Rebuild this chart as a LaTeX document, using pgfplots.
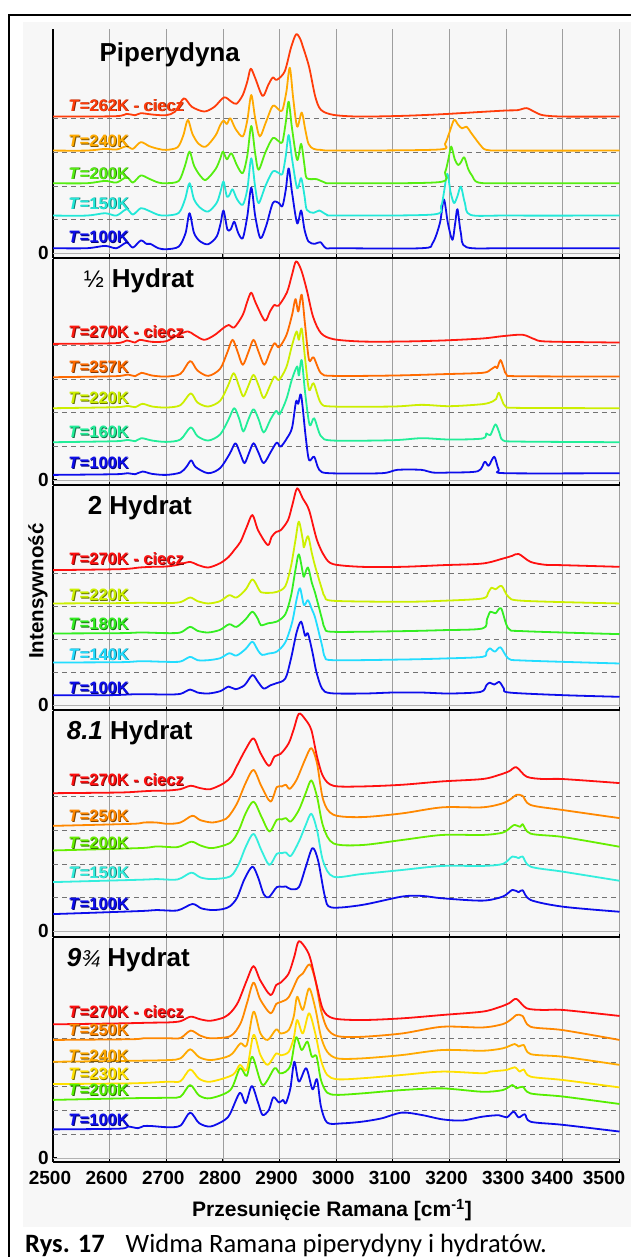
\documentclass[border=0pt]{standalone}
\usepackage{pgfplots}
\pgfplotsset{compat=1.18}
\usepackage{fontspec}
\setmainfont{Liberation Sans}
\newfontfamily\capfont{Carlito}

% temperature colours
\definecolor{k100}{HTML}{0D0DEB}
\definecolor{pa}{HTML}{22E8D8}
\definecolor{pb}{HTML}{55EE11}
\definecolor{pc}{HTML}{FFAA00}
\definecolor{pd}{HTML}{FF3C0A}
\definecolor{qa}{HTML}{22EE99}
\definecolor{qb}{HTML}{CCEE00}
\definecolor{qc}{HTML}{FF6A00}
\definecolor{qd}{HTML}{FF1A10}
\definecolor{ra}{HTML}{22DDFF}
\definecolor{rb}{HTML}{33EE22}
\definecolor{rc}{HTML}{CCF000}
\definecolor{rd}{HTML}{FF1010}
\definecolor{sa}{HTML}{33EEDD}
\definecolor{sb}{HTML}{66EE00}
\definecolor{sc}{HTML}{FF8800}
\definecolor{sd}{HTML}{FF1010}
\definecolor{tb}{HTML}{55EE00}
\definecolor{tc}{HTML}{FFE000}
\definecolor{td}{HTML}{FFAA00}
\definecolor{te}{HTML}{FF8800}
\definecolor{tf}{HTML}{FF1010}

\newcommand\lblfont{\fontsize{16.5}{16.5}\selectfont\bfseries}
\newcommand\ttlfont{\fontsize{26}{26}\selectfont\bfseries}
\newcommand\tickfont{\fontsize{19}{19}\selectfont\bfseries}

% temperature label with a dark drop shadow
\newcommand\lbl[3]{%
  \node[anchor=base west, inner sep=0pt, text=#1!50!black, xshift=0.8pt, yshift=-0.8pt] at (axis cs:2527,#2) {\lblfont #3};
  \node[anchor=base west, inner sep=0pt, text=#1] at (axis cs:2527,#2) {\lblfont #3};}

\pgfplotsset{
  panel/.style={
    scale only axis, width=566.5pt,
    xmin=2500, xmax=3500,
    separate axis lines,
    axis x line*=bottom, axis y line*=left,
    axis line style={-, line width=1.8pt, black},
    xtick={2500,2600,...,3500}, xticklabels={},
    ytick={0}, yticklabels={0},
    xtick pos=left, ytick pos=left,
    tick align=inside, major tick length=3.5pt,
    tick style={black, line width=1pt},
    xmajorgrids, major grid style={black!38, line width=0.9pt},
    yticklabel style={font=\tickfont, inner sep=1pt, xshift=-3pt},
    every axis plot/.append style={line width=1.8pt, smooth, line join=round},
  },
  ref/.style={black!55, line width=0.8pt, dash pattern=on 5pt off 4pt, sharp plot},
  zero/.style={black!30, line width=0.6pt, sharp plot},
}

\begin{document}
\begin{tikzpicture}[x=1pt,y=1pt]
\useasboundingbox (0,0) rectangle (631,-1257);
\fill[black!3] (23,-22) rectangle (631,-1227);
\draw[line width=2pt] (9,-1262) -- (9,-15.5) -- (640,-15.5);

% ---------------- Piperydyna ----------------
\begin{axis}[panel, at={(53pt,-29pt)}, anchor=north west, height=229pt, ymin=-0.14, ymax=6.66]
\addplot[zero] coordinates {(2500,0)(3500,0)};
\addplot[ref] coordinates {(2500,1)(3500,1)};
\addplot[ref] coordinates {(2500,2)(3500,2)};
\addplot[ref] coordinates {(2500,3)(3500,3)};
\addplot[ref] coordinates {(2500,4)(3500,4)};
% T = 100 K
\addplot[k100] coordinates {(2500,0.15)(2560,0.15)(2592,0.22)(2612,0.15)(2630,0.32)(2641,0.17)(2655,0.38)(2665,0.28)(2672,0.28)(2686,0.15)(2700,0.12)(2722,0.2)(2734,0.6)(2741,1.19)(2749,0.6)(2760,0.35)(2774,0.27)(2789,0.5)(2796,0.9)(2801,1.27)(2808,0.7)(2814,0.72)(2820,0.94)(2827,0.6)(2835,0.45)(2843,1.1)(2850,1.95)(2857,1.1)(2866,0.45)(2876,0.8)(2888,1.49)(2898,1.5)(2905,1.4)(2911,1.9)(2916,2.52)(2922,1.8)(2931,0.89)(2938,1.27)(2944,0.7)(2951,0.35)(2962,0.28)(2972,0.33)(2982,0.15)(3000,0.15)(3150,0.15)(3170,0.3)(3183,0.9)(3190,1.6)(3197,0.9)(3205,0.4)(3210,0.9)(3214,1.31)(3220,0.6)(3230,0.18)(3300,0.15)(3500,0.15)};
% T = 150 K
\addplot[pa] coordinates {(2500,1.12)(2560,1.12)(2592,1.19)(2612,1.12)(2630,1.31)(2641,1.15)(2655,1.34)(2668,1.27)(2686,1.14)(2700,1.12)(2722,1.2)(2733,1.6)(2741,2.08)(2749,1.6)(2760,1.35)(2774,1.24)(2789,1.5)(2796,1.85)(2801,2.13)(2807,1.68)(2812,1.75)(2817,1.9)(2825,1.6)(2835,1.44)(2843,1.9)(2850,2.82)(2857,1.95)(2863,1.49)(2875,2.0)(2888,2.43)(2899,2.38)(2905,2.35)(2911,2.9)(2916,3.51)(2922,2.8)(2931,1.93)(2938,2.23)(2944,1.7)(2948,1.29)(2960,1.2)(2970,1.27)(2984,1.14)(3000,1.12)(3170,1.15)(3185,1.4)(3190,1.8)(3196,2.36)(3202,1.8)(3208,1.49)(3214,1.7)(3220,1.98)(3227,1.5)(3237,1.14)(3300,1.12)(3500,1.12)};
% T = 200 K
\addplot[pb] coordinates {(2500,2.08)(2560,2.08)(2592,2.15)(2612,2.1)(2630,2.26)(2641,2.1)(2655,2.31)(2670,2.21)(2686,2.1)(2700,2.08)(2722,2.15)(2733,2.6)(2741,3.02)(2749,2.6)(2760,2.3)(2770,2.18)(2787,2.5)(2795,2.8)(2800,3.02)(2807,2.79)(2815,2.97)(2825,2.6)(2835,2.38)(2843,2.9)(2850,3.78)(2857,2.95)(2863,2.48)(2875,3.0)(2888,3.42)(2899,3.32)(2905,3.3)(2911,3.9)(2916,4.5)(2922,3.7)(2931,2.77)(2938,3.25)(2944,2.6)(2948,2.23)(2966,2.2)(2980,2.1)(3000,2.08)(3180,2.11)(3192,2.4)(3198,2.8)(3203,3.17)(3209,2.8)(3215,2.62)(3220,2.7)(3226,2.85)(3233,2.5)(3240,2.3)(3251,2.1)(3300,2.08)(3500,2.08)};
% T = 240 K
\addplot[pc] coordinates {(2500,3.05)(2560,3.05)(2592,3.1)(2612,3.08)(2630,3.18)(2641,3.1)(2655,3.3)(2670,3.18)(2686,3.1)(2700,3.07)(2720,3.15)(2730,3.5)(2738,3.96)(2746,3.55)(2757,3.25)(2770,3.17)(2787,3.5)(2795,3.8)(2801,3.94)(2807,3.84)(2813,4.01)(2822,3.7)(2835,3.47)(2843,3.95)(2850,4.7)(2857,4.0)(2865,3.47)(2876,3.9)(2888,4.38)(2899,4.26)(2905,4.25)(2912,4.8)(2918,5.51)(2924,4.6)(2931,3.76)(2939,4.18)(2945,3.7)(2951,3.25)(2960,3.1)(2973,3.07)(3000,3.05)(3180,3.08)(3192,3.25)(3200,3.6)(3208,3.96)(3215,3.82)(3222,3.71)(3230,3.76)(3237,3.6)(3244,3.44)(3255,3.2)(3265,3.07)(3300,3.05)(3500,3.05)};
% T = 262 K, liquid
\addplot[pd] coordinates {(2500,4.06)(2610,4.07)(2630,4.14)(2645,4.1)(2655,4.16)(2675,4.12)(2699,4.1)(2715,4.2)(2731,4.6)(2745,4.35)(2767,4.21)(2785,4.35)(2802,4.63)(2815,4.5)(2824,4.44)(2835,4.7)(2843,5.1)(2849,5.48)(2857,5.2)(2870,4.67)(2880,5.0)(2888,5.22)(2895,5.15)(2909,5.4)(2920,6.1)(2929,6.5)(2936,6.38)(2941,6.14)(2952,5.54)(2963,4.65)(2973,4.26)(2995,4.11)(3040,4.06)(3116,4.08)(3187,4.13)(3258,4.2)(3300,4.24)(3320,4.25)(3336,4.31)(3350,4.2)(3365,4.1)(3400,4.06)(3500,4.06)};
\node[anchor=base west, inner sep=0pt] at (axis cs:2582,5.70) {\ttlfont Piperydyna};
\lbl{pd}{4.22}{\textit{T}=262K - ciecz}
\lbl{pc}{3.16}{\textit{T}=240K}
\lbl{pb}{2.20}{\textit{T}=200K}
\lbl{pa}{1.31}{\textit{T}=150K}
\lbl{k100}{0.31}{\textit{T}=100K}
\end{axis}

% ---------------- 1/2 hydrat ----------------
\begin{axis}[panel, at={(53pt,-259pt)}, anchor=north west, height=226pt, ymin=-0.15, ymax=6.56]
\addplot[zero] coordinates {(2500,0)(3500,0)};
\addplot[ref] coordinates {(2500,1)(3500,1)};
\addplot[ref] coordinates {(2500,2)(3500,2)};
\addplot[ref] coordinates {(2500,3)(3500,3)};
\addplot[ref] coordinates {(2500,4)(3500,4)};
% T = 100 K
\addplot[k100] coordinates {(2500,0.15)(2610,0.17)(2632,0.2)(2645,0.17)(2658,0.25)(2675,0.18)(2700,0.15)(2725,0.22)(2736,0.4)(2744,0.58)(2752,0.38)(2774,0.2)(2795,0.35)(2812,0.78)(2822,1.09)(2830,0.8)(2838,0.5)(2846,0.8)(2854,1.09)(2863,0.8)(2872,0.5)(2885,0.85)(2895,1.11)(2902,0.99)(2913,1.24)(2922,1.55)(2929,2.33)(2933,2.26)(2938,2.52)(2946,1.29)(2952,0.59)(2961,0.69)(2970,0.3)(2988,0.2)(3080,0.2)(3108,0.3)(3150,0.3)(3170,0.22)(3200,0.22)(3250,0.26)(3262,0.54)(3269,0.42)(3279,0.69)(3287,0.3)(3300,0.2)(3500,0.2)};
% T = 160 K
\addplot[qa] coordinates {(2500,1.12)(2610,1.15)(2632,1.19)(2645,1.15)(2656,1.24)(2675,1.17)(2700,1.13)(2725,1.2)(2743,1.56)(2755,1.3)(2774,1.17)(2795,1.35)(2810,1.8)(2820,2.13)(2829,1.8)(2836,1.44)(2845,1.8)(2854,2.1)(2863,1.8)(2872,1.41)(2884,1.8)(2894,2.05)(2900,1.95)(2912,2.4)(2922,3.0)(2931,3.37)(2934,3.1)(2939,3.56)(2945,2.6)(2953,1.63)(2961,1.83)(2973,1.3)(2994,1.17)(3100,1.18)(3151,1.24)(3200,1.2)(3258,1.23)(3265,1.38)(3272,1.33)(3281,1.65)(3288,1.4)(3294,1.18)(3320,1.14)(3500,1.12)};
% T = 220 K
\addplot[qb] coordinates {(2500,2.13)(2610,2.16)(2632,2.2)(2645,2.16)(2658,2.26)(2675,2.18)(2700,2.15)(2725,2.22)(2743,2.57)(2755,2.3)(2774,2.18)(2795,2.35)(2809,2.8)(2819,3.17)(2828,2.8)(2836,2.48)(2845,2.8)(2854,3.12)(2863,2.8)(2872,2.43)(2883,2.8)(2891,3.07)(2899,2.97)(2912,3.35)(2922,4.0)(2930,4.41)(2934,4.16)(2939,4.5)(2945,3.6)(2952,2.67)(2960,2.87)(2973,2.28)(2994,2.18)(3100,2.18)(3151,2.23)(3200,2.19)(3258,2.25)(3276,2.33)(3282,2.4)(3287,2.59)(3293,2.35)(3299,2.18)(3320,2.14)(3500,2.13)};
% T = 257 K
\addplot[qc] coordinates {(2500,3.05)(2610,3.08)(2632,3.13)(2645,3.08)(2656,3.18)(2675,3.1)(2700,3.07)(2725,3.15)(2742,3.53)(2755,3.25)(2774,3.09)(2795,3.3)(2808,3.8)(2817,4.16)(2826,3.8)(2835,3.42)(2845,3.8)(2854,4.16)(2863,3.8)(2873,3.42)(2883,3.8)(2891,4.06)(2899,3.94)(2912,4.3)(2922,4.9)(2928,5.37)(2933,5.0)(2939,5.5)(2945,4.6)(2952,3.56)(2960,3.64)(2973,3.17)(2994,3.09)(3100,3.1)(3187,3.14)(3258,3.18)(3272,3.27)(3281,3.37)(3284,3.32)(3290,3.56)(3296,3.3)(3301,3.12)(3320,3.08)(3500,3.07)};
% T = 270 K, liquid
\addplot[qd] coordinates {(2500,4.04)(2610,4.06)(2630,4.14)(2645,4.08)(2653,4.16)(2675,4.1)(2700,4.12)(2720,4.3)(2738,4.41)(2750,4.3)(2767,4.16)(2785,4.3)(2800,4.5)(2810,4.6)(2820,4.53)(2835,4.9)(2843,5.3)(2850,5.56)(2858,5.25)(2874,4.73)(2883,5.0)(2891,5.2)(2898,5.17)(2913,5.57)(2922,6.1)(2929,6.49)(2938,6.24)(2948,5.64)(2959,4.85)(2973,4.36)(2995,4.18)(3045,4.11)(3116,4.11)(3187,4.14)(3258,4.2)(3294,4.27)(3329,4.31)(3350,4.18)(3372,4.11)(3500,4.08)};
\node[anchor=base west, inner sep=0pt] at (axis cs:2554,5.71) {{\fontsize{24}{24}\selectfont\mdseries ½}\hspace{8pt}\ttlfont Hydrat};
\lbl{qd}{4.22}{\textit{T}=270K - ciecz}
\lbl{qc}{3.19}{\textit{T}=257K}
\lbl{qb}{2.27}{\textit{T}=220K}
\lbl{qa}{1.25}{\textit{T}=160K}
\lbl{k100}{0.34}{\textit{T}=100K}
\end{axis}

% ---------------- 2 hydrat ----------------
\begin{axis}[panel, at={(53pt,-486pt)}, anchor=north west, height=224pt, ymin=-0.15, ymax=6.64]
\addplot[zero] coordinates {(2500,0)(3500,0)};
\addplot[ref] coordinates {(2500,1)(3500,1)};
\addplot[ref] coordinates {(2500,2)(3500,2)};
\addplot[ref] coordinates {(2500,3)(3500,3)};
\addplot[ref] coordinates {(2500,4)(3500,4)};
% T = 100 K
\addplot[k100] coordinates {(2500,0.3)(2600,0.3)(2650,0.33)(2700,0.32)(2725,0.34)(2742,0.47)(2755,0.38)(2774,0.35)(2795,0.42)(2810,0.56)(2822,0.48)(2838,0.6)(2852,0.91)(2862,0.7)(2872,0.5)(2884,0.6)(2894,0.66)(2910,0.8)(2920,1.4)(2930,2.2)(2938,2.53)(2945,2.1)(2950,2.17)(2958,1.6)(2965,1.0)(2975,0.5)(2990,0.36)(3050,0.35)(3100,0.38)(3150,0.38)(3200,0.35)(3255,0.4)(3265,0.6)(3271,0.68)(3279,0.62)(3288,0.7)(3296,0.5)(3305,0.38)(3400,0.3)(3500,0.25)};
% T = 140 K
\addplot[ra] coordinates {(2500,1.29)(2620,1.3)(2656,1.33)(2700,1.31)(2725,1.32)(2742,1.46)(2755,1.36)(2774,1.36)(2795,1.42)(2811,1.57)(2824,1.5)(2840,1.7)(2852,1.92)(2862,1.65)(2869,1.52)(2880,1.56)(2895,1.62)(2910,1.9)(2922,2.5)(2930,3.2)(2936,3.54)(2943,3.03)(2950,3.18)(2957,2.9)(2963,2.63)(2975,1.8)(2980,1.46)(2995,1.36)(3116,1.38)(3187,1.41)(3258,1.46)(3265,1.6)(3271,1.72)(3280,1.62)(3290,1.75)(3304,1.41)(3330,1.35)(3500,1.26)};
% T = 180 K
\addplot[rb] coordinates {(2500,2.17)(2620,2.18)(2656,2.2)(2700,2.18)(2725,2.2)(2742,2.37)(2755,2.25)(2774,2.2)(2795,2.28)(2811,2.45)(2824,2.37)(2840,2.6)(2852,2.83)(2862,2.6)(2867,2.42)(2880,2.48)(2895,2.53)(2910,2.75)(2920,3.3)(2928,4.1)(2934,4.57)(2941,4.0)(2943,3.89)(2950,4.17)(2957,3.7)(2963,3.38)(2975,2.6)(2980,2.32)(2995,2.22)(3116,2.24)(3187,2.27)(3258,2.32)(3266,2.6)(3272,2.83)(3281,2.78)(3291,2.93)(3304,2.32)(3330,2.24)(3500,2.15)};
% T = 220 K
\addplot[rc] coordinates {(2500,3.08)(2620,3.09)(2656,3.1)(2700,3.09)(2725,3.12)(2742,3.26)(2755,3.15)(2774,3.08)(2795,3.15)(2811,3.33)(2824,3.26)(2840,3.5)(2852,3.81)(2862,3.55)(2867,3.42)(2880,3.4)(2895,3.43)(2910,3.6)(2920,4.2)(2928,5.0)(2934,5.56)(2941,5.0)(2943,4.78)(2950,5.12)(2957,4.6)(2963,4.19)(2975,3.5)(2980,3.28)(2995,3.16)(3116,3.13)(3187,3.16)(3258,3.23)(3268,3.4)(3274,3.56)(3281,3.51)(3292,3.61)(3304,3.28)(3330,3.16)(3500,3.08)};
% T = 270 K, liquid
\addplot[rd] coordinates {(2500,4.09)(2620,4.12)(2653,4.17)(2675,4.19)(2700,4.2)(2720,4.25)(2742,4.34)(2755,4.25)(2774,4.17)(2795,4.3)(2810,4.49)(2820,4.7)(2831,4.95)(2842,5.4)(2852,5.76)(2862,5.3)(2879,4.85)(2886,5.1)(2894,5.25)(2902,5.3)(2915,5.61)(2923,6.1)(2931,6.57)(2941,6.26)(2952,5.91)(2966,5.0)(2980,4.49)(2995,4.27)(3045,4.19)(3116,4.19)(3187,4.24)(3258,4.29)(3294,4.44)(3310,4.52)(3322,4.58)(3343,4.34)(3370,4.25)(3400,4.24)(3500,4.19)};
\node[anchor=base west, inner sep=0pt] at (axis cs:2561,5.78) {\ttlfont 2 Hydrat};
\lbl{rd}{4.25}{\textit{T}=270K - ciecz}
\lbl{rc}{3.17}{\textit{T}=220K}
\lbl{rb}{2.28}{\textit{T}=180K}
\lbl{ra}{1.36}{\textit{T}=140K}
\lbl{k100}{0.34}{\textit{T}=100K}
\end{axis}

% ---------------- 8.1 hydrat ----------------
\begin{axis}[panel, at={(53pt,-711pt)}, anchor=north west, height=226pt, ymin=-0.17, ymax=6.54]
\addplot[zero] coordinates {(2500,0)(3500,0)};
\addplot[ref] coordinates {(2500,1)(3500,1)};
\addplot[ref] coordinates {(2500,2)(3500,2)};
\addplot[ref] coordinates {(2500,3)(3500,3)};
\addplot[ref] coordinates {(2500,4)(3500,4)};
% T = 100 K
\addplot[k100] coordinates {(2500,0.51)(2653,0.6)(2682,0.63)(2720,0.62)(2746,0.81)(2762,0.68)(2781,0.63)(2800,0.66)(2813,0.75)(2825,1.0)(2838,1.55)(2852,1.92)(2862,1.6)(2872,1.1)(2881,1.01)(2895,1.31)(2904,1.32)(2911,1.33)(2920,1.25)(2934,1.31)(2946,1.9)(2958,2.47)(2968,2.1)(2980,1.03)(2991,0.71)(3045,0.78)(3116,1.03)(3151,1.05)(3187,0.98)(3258,0.91)(3294,1.03)(3311,1.23)(3322,1.16)(3329,1.22)(3343,0.93)(3400,0.73)(3500,0.58)};
% T = 150 K
\addplot[sa] coordinates {(2500,1.46)(2653,1.53)(2682,1.55)(2720,1.54)(2744,1.74)(2760,1.6)(2781,1.55)(2813,1.63)(2828,2.0)(2840,2.5)(2854,2.89)(2868,2.4)(2882,1.97)(2895,2.3)(2904,2.32)(2911,2.34)(2920,2.24)(2934,2.66)(2946,3.15)(2956,3.49)(2966,3.01)(2977,2.07)(2995,1.62)(3045,1.7)(3116,1.82)(3187,1.94)(3258,1.94)(3294,2.0)(3311,2.22)(3322,2.17)(3329,2.22)(3343,1.92)(3400,1.77)(3500,1.5)};
% T = 200 K
\addplot[sb] coordinates {(2500,2.4)(2653,2.47)(2682,2.52)(2720,2.5)(2744,2.66)(2760,2.55)(2781,2.47)(2813,2.63)(2828,3.0)(2840,3.5)(2854,3.85)(2868,3.4)(2882,2.96)(2895,3.31)(2904,3.32)(2911,3.36)(2920,3.26)(2934,3.6)(2946,4.1)(2956,4.48)(2966,4.0)(2977,3.11)(2995,2.61)(3045,2.56)(3116,2.71)(3187,2.86)(3258,2.86)(3294,2.93)(3309,3.1)(3315,3.16)(3325,3.1)(3329,3.18)(3343,2.9)(3400,2.8)(3500,2.51)};
% T = 250 K
\addplot[sc] coordinates {(2500,3.13)(2639,3.19)(2660,3.23)(2682,3.23)(2703,3.19)(2725,3.23)(2746,3.43)(2760,3.3)(2781,3.23)(2800,3.3)(2810,3.41)(2825,3.8)(2840,4.4)(2854,4.79)(2868,4.3)(2884,3.85)(2895,4.28)(2904,4.3)(2911,4.35)(2918,4.23)(2930,4.5)(2945,5.1)(2956,5.44)(2966,4.99)(2977,3.9)(2995,3.46)(3045,3.39)(3116,3.5)(3187,3.68)(3258,3.68)(3294,3.8)(3310,3.95)(3318,4.05)(3329,4.02)(3343,3.75)(3400,3.6)(3500,3.36)};
% T = 270 K, liquid
\addplot[sd] coordinates {(2500,4.1)(2617,4.12)(2653,4.15)(2674,4.17)(2703,4.18)(2725,4.22)(2743,4.32)(2760,4.25)(2778,4.22)(2802,4.4)(2815,4.6)(2824,4.89)(2840,5.4)(2854,5.73)(2866,5.3)(2881,4.91)(2891,5.19)(2902,5.27)(2916,5.58)(2925,6.0)(2934,6.46)(2945,6.3)(2956,5.98)(2966,5.19)(2977,4.59)(2995,4.32)(3045,4.3)(3116,4.35)(3187,4.45)(3258,4.52)(3287,4.64)(3305,4.75)(3318,4.87)(3336,4.59)(3365,4.52)(3400,4.52)(3500,4.4)};
\node[anchor=base west, inner sep=0pt] at (axis cs:2524,5.70) {\ttlfont\textit{8.1} Hydrat};
\lbl{sd}{4.32}{\textit{T}=270K - ciecz}
\lbl{sc}{3.25}{\textit{T}=250K}
\lbl{sb}{2.45}{\textit{T}=200K}
\lbl{sa}{1.58}{\textit{T}=150K}
\lbl{k100}{0.65}{\textit{T}=100K}
\end{axis}

% ---------------- 9 3/4 hydrat ----------------
\begin{axis}[panel, at={(53pt,-938pt)}, anchor=north west, height=224pt, ymin=-0.17, ymax=9.17,
  xticklabels={2500,2600,2700,2800,2900,3000,3100,3200,3300,\hspace*{-15pt}3400,\hspace*{-25pt}3500},
  xticklabel style={font=\tickfont, xshift=-3pt, yshift=-6pt}]
\addplot[zero] coordinates {(2500,0)(3500,0)};
\addplot[ref] coordinates {(2500,1)(3500,1)};
\addplot[ref] coordinates {(2500,2)(3500,2)};
\addplot[ref] coordinates {(2500,3)(3500,3)};
\addplot[ref] coordinates {(2500,4)(3500,4)};
\addplot[ref] coordinates {(2500,5)(3500,5)};
% T = 100 K
\addplot[k100] coordinates {(2500,1.19)(2617,1.22)(2632,1.31)(2650,1.24)(2660,1.33)(2674,1.33)(2703,1.28)(2725,1.35)(2742,1.89)(2758,1.45)(2778,1.31)(2803,1.58)(2813,1.86)(2830,2.72)(2840,2.28)(2851,3.0)(2862,2.3)(2870,1.79)(2881,2.0)(2889,2.53)(2899,2.31)(2906,2.42)(2911,2.28)(2919,2.9)(2926,4.01)(2934,3.18)(2947,3.74)(2958,2.86)(2966,3.28)(2973,2.14)(2984,1.47)(3009,1.44)(3045,1.51)(3080,1.65)(3116,1.89)(3151,1.79)(3187,1.61)(3222,1.56)(3258,1.72)(3287,1.78)(3301,1.69)(3313,1.93)(3322,1.69)(3333,1.82)(3343,1.51)(3400,1.38)(3500,1.1)};
% T = 200 K
\addplot[tb] coordinates {(2500,2.42)(2639,2.49)(2703,2.51)(2725,2.55)(2742,3.04)(2758,2.6)(2778,2.49)(2813,2.83)(2830,3.74)(2842,3.42)(2852,4.22)(2870,3.04)(2891,3.74)(2900,3.53)(2911,3.6)(2920,3.92)(2929,5.03)(2939,4.5)(2949,4.85)(2957,4.22)(2965,4.25)(2973,3.25)(2984,2.72)(3002,2.63)(3045,2.69)(3116,2.83)(3187,2.9)(3258,2.76)(3294,2.83)(3311,3.04)(3318,2.9)(3329,2.97)(3343,2.69)(3400,2.56)(3500,2.25)};
% T = 230 K
\addplot[tc] coordinates {(2500,3.08)(2639,3.11)(2703,3.18)(2725,3.2)(2742,3.69)(2758,3.3)(2778,3.18)(2817,3.46)(2830,3.88)(2842,3.67)(2854,5.13)(2866,4.3)(2879,3.88)(2894,4.36)(2902,4.28)(2916,4.42)(2925,5.0)(2931,5.75)(2941,5.19)(2952,6.03)(2963,5.19)(2973,4.08)(2984,3.46)(3002,3.28)(3045,3.32)(3116,3.46)(3187,3.6)(3258,3.53)(3272,3.6)(3301,3.67)(3315,3.78)(3324,3.6)(3331,3.69)(3343,3.39)(3400,3.25)(3500,2.94)};
% T = 240 K
\addplot[td] coordinates {(2500,4.01)(2639,4.05)(2703,4.08)(2725,4.15)(2742,4.53)(2758,4.2)(2778,4.08)(2805,4.2)(2817,4.36)(2831,4.78)(2842,4.7)(2854,6.1)(2866,5.2)(2879,4.92)(2894,5.36)(2902,5.19)(2916,5.33)(2925,5.9)(2931,6.72)(2941,6.17)(2952,7.07)(2963,6.24)(2973,5.06)(2984,4.43)(3002,4.15)(3045,4.15)(3116,4.29)(3187,4.5)(3258,4.47)(3294,4.57)(3315,4.75)(3322,4.64)(3331,4.71)(3343,4.33)(3400,4.22)(3500,3.88)};
% T = 250 K
\addplot[te] coordinates {(2500,4.92)(2639,4.95)(2660,4.99)(2703,4.99)(2725,5.0)(2743,5.31)(2760,5.1)(2778,4.99)(2813,5.08)(2831,5.61)(2843,6.5)(2854,7.31)(2866,6.6)(2884,6.03)(2894,6.42)(2902,6.5)(2916,6.7)(2932,7.49)(2941,7.69)(2953,8.07)(2963,7.42)(2973,6.17)(2984,5.4)(3002,5.08)(3045,5.05)(3116,5.19)(3187,5.47)(3258,5.44)(3294,5.58)(3310,5.8)(3318,5.96)(3329,5.92)(3343,5.47)(3400,5.33)(3500,4.92)};
% T = 270 K, liquid
\addplot[tf] coordinates {(2500,5.57)(2617,5.61)(2674,5.64)(2703,5.65)(2725,5.7)(2743,5.89)(2760,5.78)(2778,5.72)(2802,5.86)(2815,6.1)(2827,6.51)(2842,7.4)(2854,8.0)(2866,7.4)(2884,6.79)(2894,7.21)(2902,7.31)(2916,7.69)(2926,8.4)(2934,9.04)(2948,8.67)(2955,8.25)(2966,7.14)(2977,6.17)(2995,5.82)(3045,5.75)(3116,5.82)(3187,5.96)(3258,6.1)(3287,6.28)(3305,6.45)(3318,6.63)(3336,6.24)(3365,6.17)(3400,6.17)(3500,5.92)};
\node[anchor=base west, inner sep=0pt] at (axis cs:2524,8.0) {\ttlfont\textit{9}{\fontsize{23}{23}\selectfont\mdseries\itshape ¾}\hspace{7pt}Hydrat};
\lbl{tf}{5.84}{\textit{T}=270K - ciecz}
\lbl{te}{5.09}{\textit{T}=250K}
\lbl{td}{4.03}{\textit{T}=240K}
\lbl{tc}{3.28}{\textit{T}=230K}
\lbl{tb}{2.61}{\textit{T}=200K}
\lbl{k100}{1.36}{\textit{T}=100K}
\end{axis}

\node[rotate=90] at (38pt,-591pt) {\fontsize{20.5}{20.5}\selectfont\bfseries Intensywność};
\node at (332pt,-1210pt) {\fontsize{21}{21}\selectfont\bfseries Przesunięcie Ramana [cm\textsuperscript{-1}]};
\node[anchor=base west, inner sep=0pt] at (25pt,-1252pt) {\capfont\fontsize{26.5}{26.5}\selectfont\textbf{Rys. 17}\hspace{21pt}Widma Ramana piperydyny i hydratów.};
\end{tikzpicture}
\end{document}
